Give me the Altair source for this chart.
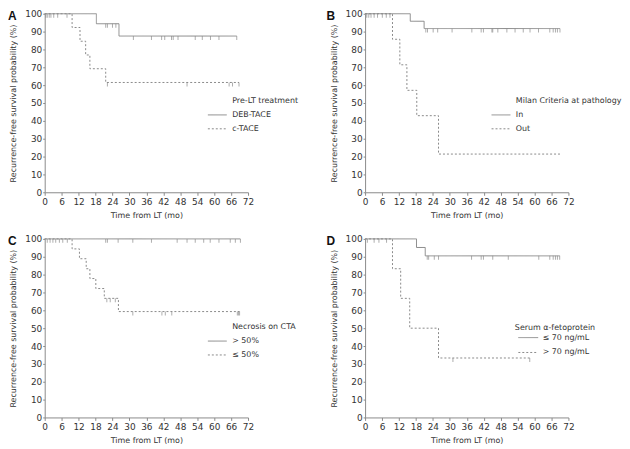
import altair as alt
import pandas as pd

FONT = "DejaVu Sans"
LINE_GRAY = "#8a8a8a"
AXIS_GRAY = "#8a8a8a"
TEXT = "#333333"

# ---------------- Panel A: Pre-LT treatment ----------------
a_groups = ["DEB-TACE", "c-TACE"]
a_deb_times = [0, 18.3, 26.3]
a_deb_surv = [100, 94.4, 87.5]
a_deb_end = 68.0
a_deb_cens = [0.4, 0.9, 1.6, 2.2, 3.2, 4.6, 21.6, 22.2, 24.0, 25.2, 31.4, 37.8,
              41.4, 42.5, 44.9, 45.5, 47.2, 53.3, 55.8, 58.7, 61.7, 68.0]
a_ct_times = [0, 9.7, 12.5, 14.5, 16.0, 21.6]
a_ct_surv = [100, 92.3, 84.6, 76.9, 69.2, 61.5]
a_ct_end = 68.8
a_ct_cens = [7.9, 22.2, 50.4, 65.3, 66.5, 68.8]

# ---------------- Panel B: Milan criteria ----------------
b_groups = ["In", "Out"]
b_in_times = [0, 16.0, 20.9]
b_in_surv = [100, 95.8, 91.7]
b_in_end = 69.0
b_in_cens = [0.6, 1.3, 2.1, 3.2, 4.4, 6.1, 7.5, 8.8, 21.5, 22.1, 24.1, 25.7, 30.8,
             37.8, 41.1, 41.9, 44.9, 45.2, 47.0, 50.2, 53.1, 56.0, 58.4, 61.4,
             65.4, 66.6, 67.4, 68.1, 69.0]
b_out_times = [0, 9.7, 12.3, 14.8, 18.3, 26.0]
b_out_surv = [100, 85.7, 71.4, 57.1, 42.9, 21.4]
b_out_end = 69.0
b_out_cens = []

# ---------------- Panel C: Necrosis on CTA ----------------
c_groups = ["> 50%", "≤ 50%"]
c_hi_times = [0]
c_hi_surv = [100]
c_hi_end = 69.3
c_hi_cens = [0.9, 1.9, 2.9, 3.9, 5.2, 6.4, 8.0, 21.6, 22.2, 26.0, 31.2, 37.8, 46.9,
             50.4, 53.3, 56.3, 58.6, 61.7, 65.7, 67.5, 69.3]
c_lo_times = [0, 9.7, 12.3, 14.7, 16.0, 18.1, 21.1, 26.1]
c_lo_surv = [100, 94.4, 88.9, 83.3, 77.8, 72.2, 66.7, 59.3]
c_lo_end = 69.0
c_lo_cens = [22.0, 23.2, 25.0, 31.2, 41.5, 42.7, 45.0, 68.2, 68.6, 69.0]

# ---------------- Panel D: Serum AFP ----------------
d_groups = ["≤ 70 ng/mL", "> 70 ng/mL"]
d_lo_times = [0, 18.2, 21.3]
d_lo_surv = [100, 95.2, 90.5]
d_lo_end = 68.9
d_lo_cens = [0.8, 3.2, 4.9, 7.6, 22.0, 22.5, 24.5, 26.0, 37.7, 41.1, 41.9, 45.2,
             50.7, 61.5, 65.4, 66.6, 67.4, 68.1, 68.9]
d_hi_times = [0, 9.7, 12.6, 15.8, 26.0]
d_hi_surv = [100, 83.3, 66.7, 50.0, 33.3]
d_hi_end = 58.3
d_hi_cens = [31.1, 58.3]

x_ticks = list(range(0, 73, 6))
y_ticks = list(range(0, 101, 10))


def surv_at(times, surv, t):
    val = surv[0]
    for ti, si in zip(times, surv):
        if ti <= t:
            val = si
    return val


def build_frames(groups, curves):
    line_rows, cens_rows = [], []
    for g, (times, surv, end, cens) in zip(groups, curves):
        for ti, si in zip(times, surv):
            line_rows.append({"g": g, "t": ti, "s": si})
        line_rows.append({"g": g, "t": end, "s": surv[-1]})
        for c in cens:
            cens_rows.append({"g": g, "t": c, "s": surv_at(times, surv, c)})
    return pd.DataFrame(line_rows), pd.DataFrame(cens_rows, columns=["g", "t", "s"])


def panel(letter, letter_dx, legend_title, groups, curves, title_as_entry,
          leg_x, leg_y):
    lines, cens = build_frames(groups, curves)
    x = alt.X("t:Q", scale=alt.Scale(domain=[0, 72], nice=False),
              axis=alt.Axis(values=x_ticks, title="Time from LT (mo)"))
    y = alt.Y("s:Q", scale=alt.Scale(domain=[0, 100], nice=False),
              axis=alt.Axis(values=y_ticks,
                            title="Recurrence-free survival probability (%)"))
    if title_as_entry:
        domain = [legend_title] + groups
        dash_range = [[0, 100], [1, 0], [2, 2]]
        legend = alt.Legend(title=None, orient="none", legendX=leg_x, legendY=leg_y,
                            symbolType="stroke", symbolSize=361, symbolStrokeWidth=1,
                            symbolStrokeColor=LINE_GRAY, labelFont=FONT,
                            labelFontSize=8, labelColor=TEXT, labelOffset=5,
                            rowPadding=-5)
    else:
        domain = groups
        dash_range = [[1, 0], [2, 2]]
        legend = alt.Legend(title=legend_title, orient="none", legendX=leg_x,
                            legendY=leg_y, symbolType="stroke", symbolSize=400,
                            symbolStrokeWidth=1, symbolStrokeColor=LINE_GRAY,
                            labelFont=FONT, labelFontSize=8, labelColor=TEXT,
                            labelOffset=4, rowPadding=-3, titleFont=FONT,
                            titleFontSize=8, titleFontWeight="normal",
                            titleColor=TEXT, titlePadding=-5, symbolOffset=3)
    line = alt.Chart(lines).mark_line(interpolate="step-after", color=LINE_GRAY,
                                      strokeWidth=1).encode(
        x=x, y=y,
        strokeDash=alt.StrokeDash("g:N", scale=alt.Scale(domain=domain, range=dash_range),
                                  legend=legend))
    ticks = alt.Chart(cens).mark_tick(orient="vertical", color=LINE_GRAY, thickness=1,
                                      size=4, yOffset=2).encode(x=x, y=y)
    lab = alt.Chart(pd.DataFrame({"label": [letter]})).mark_text(
        font="Liberation Sans", fontSize=12, fontWeight="bold", color="#111111",
        align="left", baseline="alphabetic").encode(
        text="label:N", x=alt.value(letter_dx), y=alt.value(6))
    return alt.layer(line, ticks, lab).resolve_scale(strokeDash="independent").properties(
        width=205, height=180)


pa = panel("A", -37, "Pre-LT treatment", a_groups,
           [(a_deb_times, a_deb_surv, a_deb_end, a_deb_cens),
            (a_ct_times, a_ct_surv, a_ct_end, a_ct_cens)], True, 164, 78)
pb = panel("B", -39, "Milan Criteria at pathology", b_groups,
           [(b_in_times, b_in_surv, b_in_end, b_in_cens),
            (b_out_times, b_out_surv, b_out_end, b_out_cens)], True, 127, 78)
pc = panel("C", -37, "Necrosis on CTA", c_groups,
           [(c_hi_times, c_hi_surv, c_hi_end, c_hi_cens),
            (c_lo_times, c_lo_surv, c_lo_end, c_lo_cens)], True, 164, 79)
pd_ = panel("D", -39, "Serum α-fetoprotein", d_groups,
            [(d_lo_times, d_lo_surv, d_lo_end, d_lo_cens),
             (d_hi_times, d_hi_surv, d_hi_end, d_hi_cens)], False, 151, 86)

chart = alt.concat(
    pa, pb, pc, pd_, columns=2,
    spacing=alt.RowColnumber(row=47, column=118), bounds="flush"
).resolve_scale(
    strokeDash="independent", x="independent", y="independent"
).properties(
    padding={"left": 0, "top": 0, "right": 0, "bottom": 0}
).configure(
    font=FONT
).configure_view(
    stroke=None
).configure_axis(
    grid=False, domainColor=AXIS_GRAY, tickColor=AXIS_GRAY, labelColor=TEXT,
    titleColor=TEXT, labelFont=FONT, titleFont=FONT, labelFontSize=9,
    titleFontSize=8, titleFontWeight="normal", tickSize=3, labelPadding=2,
    labelFlush=False, labelOverlap=False
).configure_axisX(
    titlePadding=5
).configure_axisY(
    tickSize=2, labelPadding=1, titlePadding=7
)

chart.save("out.html", embed_options={"renderer": "svg", "actions": False})
